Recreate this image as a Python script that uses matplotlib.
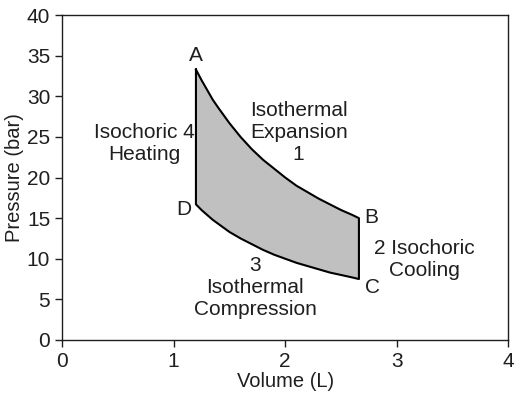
import matplotlib
matplotlib.use("Agg")
import matplotlib.pyplot as plt
import numpy as np

# volumes read along the cycle (L)
volume = [1.2, 1.25, 1.3, 1.35, 1.4, 1.5, 1.6, 1.7, 1.8, 1.9, 2.0, 2.1, 2.2, 2.3, 2.4, 2.5, 2.6, 2.66]
# hot isotherm (A -> B) and cold isotherm (D -> C), bar
p_hot = [33.3, 32.0, 30.8, 29.6, 28.6, 26.7, 25.0, 23.5, 22.2, 21.1, 20.0, 19.0, 18.2, 17.4, 16.7, 16.0, 15.4, 15.0]
p_cold = [16.7, 16.0, 15.4, 14.8, 14.3, 13.3, 12.5, 11.8, 11.1, 10.5, 10.0, 9.5, 9.1, 8.7, 8.3, 8.0, 7.7, 7.5]

plt.rcParams["font.family"] = ["Liberation Sans", "DejaVu Sans"]
plt.rcParams["font.size"] = 15
plt.rcParams["text.color"] = "0.12"
plt.rcParams["axes.labelcolor"] = "0.12"
plt.rcParams["xtick.color"] = "0.12"
plt.rcParams["ytick.color"] = "0.12"
plt.rcParams["axes.edgecolor"] = "0.12"

fig, ax = plt.subplots(figsize=(5.21, 3.99), dpi=100)

v = np.array(volume)
ph = np.array(p_hot)
pc = np.array(p_cold)
ax.fill_between(v, pc, ph, color="#c0c0c0", lw=0, zorder=1)
# closed outline A -> B -> C -> D -> A
ax.plot(np.concatenate([v, v[::-1], v[:1]]),
        np.concatenate([ph, pc[::-1], ph[:1]]),
        color="black", lw=1.5, zorder=2, solid_joinstyle="round")

ax.text(1.2, 35.0, "A", ha="center", va="center")
ax.text(2.71, 15.1, "B", ha="left", va="center")
ax.text(2.71, 6.5, "C", ha="left", va="center")
ax.text(1.16, 16.1, "D", ha="right", va="center")
ax.text(2.12, 25.6, "Isothermal\nExpansion\n1", ha="center", va="center")
ax.text(0.74, 24.2, "Isochoric 4\nHeating", ha="center", va="center")
ax.text(1.73, 6.4, "3\nIsothermal\nCompression", ha="center", va="center")
ax.text(3.25, 9.9, "2 Isochoric\nCooling", ha="center", va="center")

ax.set_xlim(0, 4)
ax.set_ylim(0, 40)
ax.set_xticks([0, 1, 2, 3, 4])
ax.set_yticks(range(0, 41, 5))
ax.tick_params(direction="out", length=5, width=1, labelsize=15)
for s in ax.spines.values():
    s.set_linewidth(1.0)
ax.set_xlabel("Volume (L)", fontsize=14.5, labelpad=1)
ax.set_ylabel("Pressure (bar)", fontsize=14.5, labelpad=2)

fig.subplots_adjust(left=0.119, right=0.976, top=0.962, bottom=0.148)
fig.savefig("out.png", dpi=100)
